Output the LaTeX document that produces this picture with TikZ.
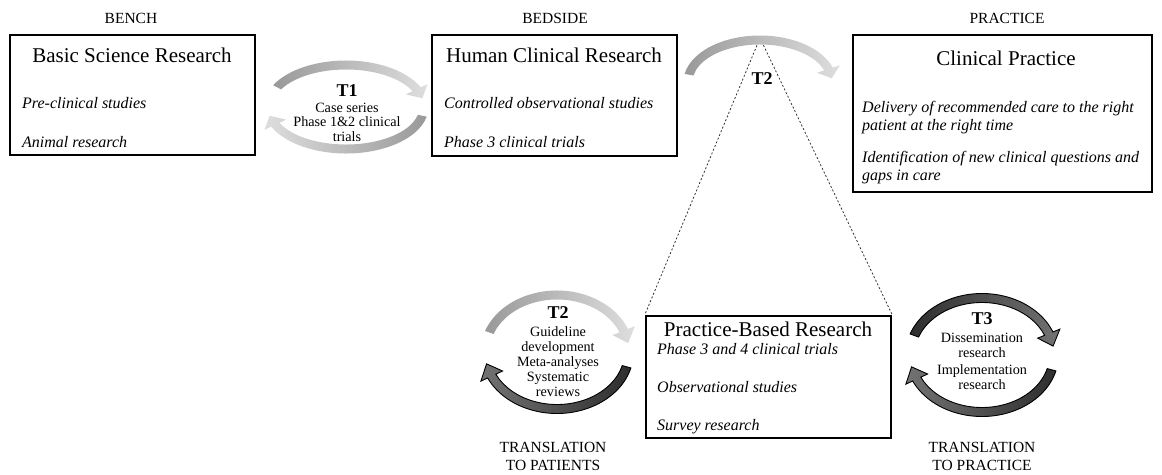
\documentclass[tikz,border=0pt]{standalone}
\usepackage{fontspec}
\setmainfont{Liberation Serif}
\usetikzlibrary{calc}

\definecolor{arcTail}{gray}{0.60}
\definecolor{arcHead}{gray}{0.87}
\definecolor{darkTail}{gray}{0.18}
\definecolor{darkHead}{gray}{0.45}

% curved block arrow running clockwise along an ellipse
% #1 centre, #2 x radius, #3 y radius, #4 start angle, #5 end angle, #6 style
\newcommand{\bandarrow}[6]{%
  \path[#6]
    ($(#1)+(#4:{#2+4.5} and {#3+4.5})$)
    arc[start angle=#4, end angle=#5, x radius={#2+4.5}, y radius={#3+4.5}]
    -- ($(#1)+(#5:{#2+12} and {#3+12})$)
    -- ($(#1)+({#5-13}:{#2} and {#3})$)
    -- ($(#1)+(#5:{#2-12} and {#3-12})$)
    -- ($(#1)+(#5:{#2-4.5} and {#3-4.5})$)
    arc[start angle=#5, end angle=#4, x radius={#2-4.5}, y radius={#3-4.5}]
    -- cycle;}

\tikzset{
  stagebox/.style={draw=black, line width=1.2pt, inner sep=0pt},
  mainbox/.style={draw=black, line width=2.4pt, inner sep=0pt},
  hdr/.style={font=\fontsize{15.5}{17}\selectfont, anchor=base, inner sep=0pt},
  ttl/.style={font=\fontsize{21}{24}\selectfont, anchor=base, inner sep=0pt},
  itm/.style={font=\fontsize{16}{18}\selectfont\itshape, anchor=base west, inner sep=0pt},
  tlab/.style={font=\fontsize{18}{20}\selectfont\bfseries, anchor=base, inner sep=0pt},
  ctxt/.style={font=\fontsize{14.2}{16}\selectfont, anchor=base, inner sep=0pt},
  capline/.style={font=\fontsize{15.5}{17}\selectfont, anchor=base, inner sep=0pt},
  zoomline/.style={draw=black!80, line width=0.8pt, dash pattern=on 2pt off 2pt},
  toplight/.style={left color=arcTail, right color=arcHead},
  botlight/.style={left color=arcHead, right color=arcTail},
  topdark/.style={draw=black, line width=0.9pt, left color=darkTail, right color=darkHead},
  botdark/.style={draw=black, line width=0.9pt, left color=darkHead, right color=darkTail},
}

\begin{document}
\begin{tikzpicture}[x=1pt, y=1pt]
\useasboundingbox (0,0) rectangle (1162,-474);

% column headings
\node[hdr] (hbench) at (131,-23) {BENCH};
\node[hdr] (hbed) at (555,-23) {BEDSIDE};
\node[hdr] (hprac) at (1007,-23) {PRACTICE};

% stage boxes
\node[stagebox, minimum width=245pt, minimum height=120pt] (basic) at (132.5,-95) {};
\node[stagebox, minimum width=245pt, minimum height=121pt] (human) at (554.5,-95.5) {};
\node[stagebox, minimum width=299pt, minimum height=157pt] (clin) at (1002.5,-113.5) {};

\node[ttl] (basicT) at (132,-62) {Basic Science Research};
\node[itm] (basic1) at (22,-108) {Pre-clinical studies};
\node[itm] (basic2) at (22,-147) {Animal research};

\node[ttl] (humanT) at (554,-62) {Human Clinical Research};
\node[itm] (human1) at (444,-108) {Controlled observational studies};
\node[itm] (human2) at (444,-147) {Phase 3 clinical trials};

\node[ttl] (clinT) at (1006,-65) {Clinical Practice};
\node[itm] (clin1) at (862,-112) {Delivery of recommended care to the right};
\node[itm] (clin2) at (862,-130) {patient at the right time};
\node[itm] (clin3) at (862,-162) {Identification of new clinical questions and};
\node[itm] (clin4) at (862,-180) {gaps in care};

% practice-based research box and the dashed zoom lines
\node[mainbox, minimum width=245pt, minimum height=122pt] (pbr) at (768.5,-377) {};
\coordinate (apex) at (760,-38);
\draw[zoomline] (apex) -- (pbr.north west);
\draw[zoomline] (apex) -- (pbr.north east);

\node[ttl] (pbrT) at (768,-336) {Practice-Based Research};
\node[itm] (pbr1) at (657,-354) {Phase 3 and 4 clinical trials};
\node[itm] (pbr2) at (657,-392) {Observational studies};
\node[itm] (pbr3) at (657,-430) {Survey research};

% T1 cycle
\coordinate (c1) at (346,-107);
\bandarrow{c1}{78}{42}{152}{25}{toplight}
\bandarrow{c1}{78}{42}{-12}{-155}{botlight}
\node[tlab] (t1) at (347,-96) {T1};
\node[ctxt] (t1a) at (347,-112.5) {Case series};
\node[ctxt] (t1b) at (347,-126.5) {Phase 1\&2 clinical};
\node[ctxt] (t1c) at (347,-141.5) {trials};

% T2 arc between bedside and practice
\coordinate (c2) at (760,-82);
\bandarrow{c2}{72}{42}{170}{18}{toplight}
\node[tlab] (t2top) at (762,-84) {T2};

% T2 cycle (translation to patients)
\coordinate (c3) at (557,-352);
\bandarrow{c3}{72}{57}{160}{22}{toplight}
\bandarrow{c3}{72}{57}{-15}{-155}{botdark}
\node[tlab] (t2) at (558,-318) {T2};
\node[ctxt] (t2a) at (558,-336.5) {Guideline};
\node[ctxt] (t2b) at (558,-351.5) {development};
\node[ctxt] (t2c) at (558,-366.5) {Meta-analyses};
\node[ctxt] (t2d) at (558,-381.5) {Systematic};
\node[ctxt] (t2e) at (558,-396.5) {reviews};
\node[capline] (tp1) at (553,-452) {TRANSLATION};
\node[capline] (tp2) at (553,-470) {TO PATIENTS};

% T3 cycle (translation to practice)
\coordinate (c4) at (982,-355);
\bandarrow{c4}{72}{57}{160}{22}{topdark}
\bandarrow{c4}{72}{57}{-15}{-155}{botdark}
\node[tlab] (t3) at (982,-324) {T3};
\node[ctxt] (t3a) at (982,-342.5) {Dissemination};
\node[ctxt] (t3b) at (982,-357.5) {research};
\node[ctxt] (t3c) at (982,-374.5) {Implementation};
\node[ctxt] (t3d) at (982,-389.5) {research};
\node[capline] (tq1) at (982,-452) {TRANSLATION};
\node[capline] (tq2) at (982,-470) {TO PRACTICE};
\end{tikzpicture}
\end{document}
